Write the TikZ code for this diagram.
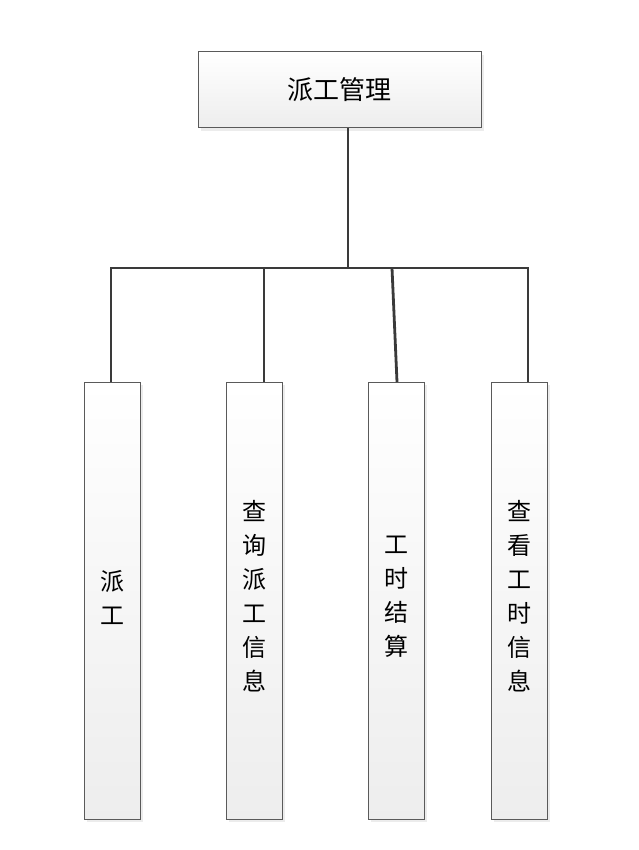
\documentclass[tikz,border=0pt]{standalone}
\usepackage{fontspec}
\newfontfamily\cjk{Noto Sans CJK SC}
\usetikzlibrary{shadows,calc}
\definecolor{linec}{HTML}{3A3A3A}
\definecolor{boxborder}{HTML}{5A5A5A}
\begin{document}
\begin{tikzpicture}[x=1pt,y=-1pt,
  box/.style={draw=boxborder,line width=1pt,top color=white,bottom color=black!7,
    drop shadow={shadow xshift=3pt,shadow yshift=-3pt,fill=black!12,opacity=0.6},
    inner sep=0pt,align=center},
  tall/.style={box,minimum width=56pt,minimum height=437pt},
  lbl/.style={inner sep=0pt,align=center,font=\cjk\fontsize{24}{34}\selectfont},
  conn/.style={draw=linec,line width=2.8pt}]
\useasboundingbox (0,0) rectangle (638,850);
\node[box,minimum width=283pt,minimum height=76pt,font=\cjk\fontsize{26}{30}\selectfont] (top) at (339.5,90) {派工管理};
\node[tall] (b1) at (112,600.5) {};
\node[tall] (b2) at (254,600.5) {};
\node[tall] (b3) at (396,600.5) {};
\node[tall] (b4) at (519,600.5) {};
\node[lbl] (t1) at ($(b1.center)+(0,-3)$) {派\\工};
\node[lbl] (t2) at ($(b2.center)+(0,-4)$) {查\\询\\派\\工\\信\\息};
\node[lbl] (t3) at ($(b3.center)+(0,-4)$) {工\\时\\结\\算};
\node[lbl] (t4) at ($(b4.center)+(0,-4)$) {查\\看\\工\\时\\信\\息};
\coordinate (j0) at (348,268);
\coordinate (j1) at (111,268);
\coordinate (j2) at (264,268);
\coordinate (j3) at (392,268);
\coordinate (j4) at (528,268);
\coordinate (e3) at (397,382);
\draw[conn] (top.south -| j0) -- (j0);
\draw[conn,line cap=rect] (j1) -- (j4);
\draw[conn] (j1) -- (b1.north -| j1);
\draw[conn] (j2) -- (b2.north -| j2);
\draw[conn] (j3) -- (e3);
\draw[conn] (j4) -- (b4.north -| j4);
\end{tikzpicture}
\end{document}
